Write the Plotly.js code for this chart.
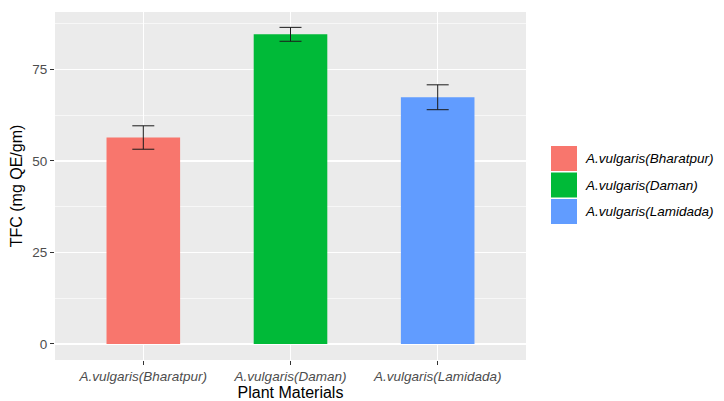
<!DOCTYPE html>
<html>
<head>
<meta charset="utf-8">
<script src="https://cdn.plot.ly/plotly-3.0.1.min.js"></script>
<style>html,body{margin:0;padding:0;background:#fff}#chart{width:724px;height:401px}</style>
</head>
<body>
<div id="chart"></div>
<script>
const categories = ["A.vulgaris(Bharatpur)", "A.vulgaris(Daman)", "A.vulgaris(Lamidada)"];
const values = [56.4, 84.6, 67.4];
const errors = [3.2, 1.9, 3.4];
const colors = ["#F8766D", "#00BA38", "#619CFF"];
const yTicks = [0, 25, 50, 75];

const W = 724, H = 401;
const margin = {l: 55, r: 198, t: 12, b: 41};
const pw = W - margin.l - margin.r, ph = H - margin.t - margin.b;
const px2x = p => (p - margin.l) / pw;
const py2y = p => (H - margin.b - p) / ph;

const traces = categories.map((c, i) => ({
  type: 'bar',
  x: [c],
  y: [values[i]],
  name: c,
  width: 0.5,
  marker: {color: colors[i], line: {width: 0}},
  error_y: {type: 'data', array: [errors[i]], visible: true, color: '#1a1a1a', thickness: 1, width: 11},
  showlegend: false,
  hoverinfo: 'x+y'
}));

const shapes = [];
const annotations = [];
categories.forEach((c, i) => {
  const top = 146 + i * 26.5;
  shapes.push({type: 'rect', xref: 'paper', yref: 'paper',
    x0: px2x(551), x1: px2x(577), y0: py2y(top + 25), y1: py2y(top),
    fillcolor: colors[i], line: {width: 0}});
  annotations.push({xref: 'paper', yref: 'paper', x: px2x(583), y: py2y(top + 12.5),
    xanchor: 'left', yanchor: 'middle', showarrow: false,
    text: '<i>' + c + '</i>', font: {family: 'Liberation Sans, Arial, sans-serif', size: 13.5, color: '#000'}});
});

const layout = {
  width: W, height: H,
  margin: margin,
  paper_bgcolor: '#ffffff',
  plot_bgcolor: '#EBEBEB',
  barmode: 'overlay',
  showlegend: false,
  font: {family: 'Liberation Sans, Arial, sans-serif'},
  xaxis: {
    type: 'category',
    categoryarray: categories,
    range: [-0.6, 2.6],
    tickvals: categories,
    ticktext: categories.map(c => '<i>' + c + '</i>'),
    showgrid: true, gridcolor: '#ffffff', gridwidth: 1.4,
    zeroline: false,
    ticks: 'outside', ticklen: 4, tickwidth: 1, tickcolor: '#333333',
    tickfont: {size: 13.5, color: '#4D4D4D'},
    title: {text: 'Plant Materials', font: {size: 16, color: '#000'}, standoff: 2},
    showline: false,
    fixedrange: true
  },
  yaxis: {
    range: [-4.4, 90.7],
    tickvals: yTicks,
    ticktext: yTicks.map(String),
    showgrid: true, gridcolor: '#ffffff', gridwidth: 1.4,
    minor: {tickvals: [12.5, 37.5, 62.5, 87.5], showgrid: true, gridcolor: '#ffffff', gridwidth: 0.6, ticks: ''},
    zeroline: false,
    ticks: 'outside', ticklen: 4, tickwidth: 1, tickcolor: '#333333',
    tickfont: {size: 13.5, color: '#4D4D4D'},
    title: {text: 'TFC (mg QE/gm)', font: {size: 16, color: '#000'}, standoff: 5},
    showline: false,
    fixedrange: true
  },
  shapes: shapes,
  annotations: annotations
};

Plotly.newPlot('chart', traces, layout, {displayModeBar: false, staticPlot: true});
</script>
</body>
</html>
